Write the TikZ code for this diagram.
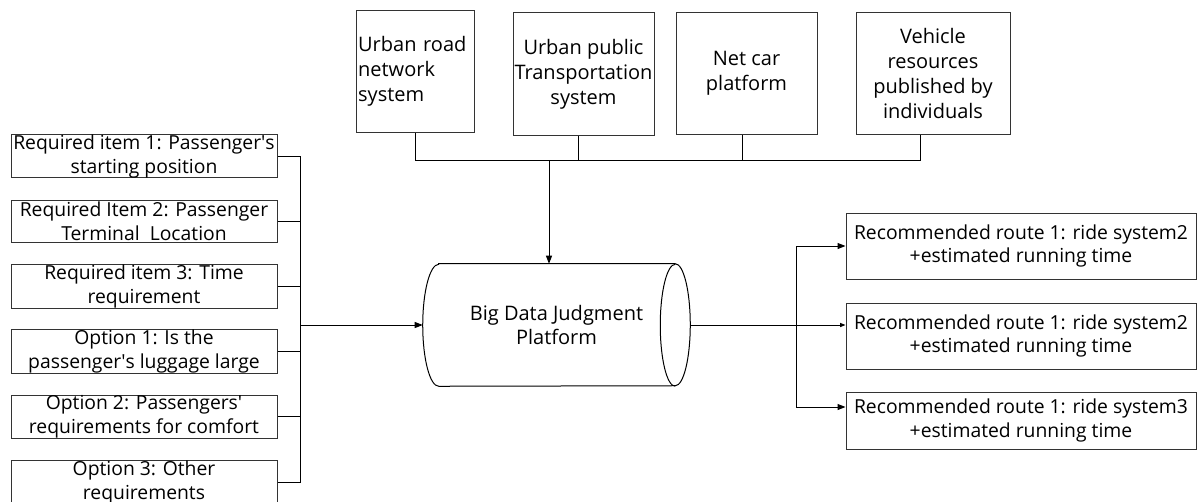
\documentclass[tikz,border=0pt]{standalone}
\usepackage{fontspec}
\setmainfont{Open Sans}
\usepackage{tikz}
\usetikzlibrary{positioning,arrows.meta,calc}
\tikzset{
    box/.style={rectangle, draw=black!80, line width=0.75pt, inner sep=0pt, align=center},
    input box/.style={box, minimum width=199.5pt, minimum height=31.5pt, font=\fontsize{14.5}{18}\selectfont},
    source box/.style={box, minimum height=92pt, font=\fontsize{15}{18.75}\selectfont},
    route box/.style={box, minimum width=262.5pt, minimum height=49.5pt, font=\fontsize{14.5}{17.5}\selectfont},
    platform/.style={draw=none, minimum width=200.25pt, minimum height=91.5pt, align=center, font=\fontsize{15}{18}\selectfont},
    link/.style={line width=0.75pt, black},
    flow/.style={link, -{Triangle[length=6pt, width=4.5pt]}},
    small flow/.style={link, -{Triangle[length=4pt, width=3pt]}}
}

\begin{document}
\begin{tikzpicture}[x=0.75pt, y=0.75pt]
    \useasboundingbox (0,0) rectangle (1197,-501);

    % Passenger requirements (left column)
    \foreach \t [count=\i from 0] in {%
        {Required item 1: Passenger\textquotesingle s\\starting position},
        {Required Item 2: Passenger\\Terminal\ \ Location},
        {Required item 3: Time\\requirement},
        {Option 1: Is the\\passenger\textquotesingle s luggage large},
        {Option 2: Passengers\textquotesingle\\requirements for comfort},
        {Option 3: Other\\requirements}} {
        \node[input box] (in-\i) at (144,{-156-65.2*\i}) {\t};
    }

    % Data sources (top row)
    \node[source box, minimum width=87.75pt, text width=86pt, align=left, inner xsep=1pt] (src-a) at (415.5,-71.5) {Urban road\\network\\system};
    \node[source box, minimum width=105.75pt] (src-b) at (583.5,-74) {Urban public\\Transportation\\system};
    \node[source box, minimum width=105.75pt] (src-c) at (746.5,-73.5) {Net car\\platform};
    \node[source box, minimum width=115.5pt] (src-d) at (933,-73.5) {Vehicle\\resources\\published by\\individuals};

    % Judgment platform (cylinder)
    \node[platform] (judge) at (556.5,-325) {Big Data Judgment\\Platform};
    \draw[link] ([xshift=12pt]judge.north west) -- ([xshift=-11.25pt]judge.north east)
        arc[start angle=90, end angle=-90, x radius=11.25pt, y radius=45.75pt]
        -- ([xshift=12pt]judge.south west)
        arc[start angle=270, end angle=90, x radius=12pt, y radius=45.75pt] -- cycle;
    \draw[link] ([xshift=-11.25pt]judge.south east)
        arc[start angle=270, end angle=90, x radius=11.25pt, y radius=45.75pt];

    % Recommended routes (right column)
    \node[route box] (route-1) at (1021,-246) {Recommended route 1: ride system2\\+estimated running time};
    \node[route box] (route-2) at (1021,-336) {Recommended route 1: ride system2\\+estimated running time};
    \node[route box, minimum height=42.75pt] (route-3) at (1021,-420.5) {Recommended route 1: ride system3\\+estimated running time};

    % Bus points
    \coordinate (lbus) at (300,-325);
    \coordinate (tbus) at (549,-160);
    \coordinate (rbus) at (796,-325);

    % Requirements into platform
    \foreach \i in {0,...,5} {
        \draw[link] (in-\i.east) -| (lbus);
    }
    \draw[flow] (lbus) -- (judge.west);

    % Sources into platform
    \draw[link] (src-a.south) |- (tbus);
    \draw[link] ([xshift=-4.125pt]src-b.south) |- (tbus);
    \draw[link] ([xshift=-3.375pt]src-c.south) |- (tbus);
    \draw[link] ([xshift=-9.75pt]src-d.south) |- (tbus);
    \draw[flow] (tbus) -- (tbus |- judge.north);

    % Platform to routes
    \draw[link] (judge.east) -- (rbus);
    \draw[flow] (rbus) |- (route-1.west);
    \draw[small flow] (rbus) -- (rbus -| route-2.west);
    \draw[flow] (rbus) |- ([yshift=10.125pt]route-3.west);
\end{tikzpicture}
\end{document}
